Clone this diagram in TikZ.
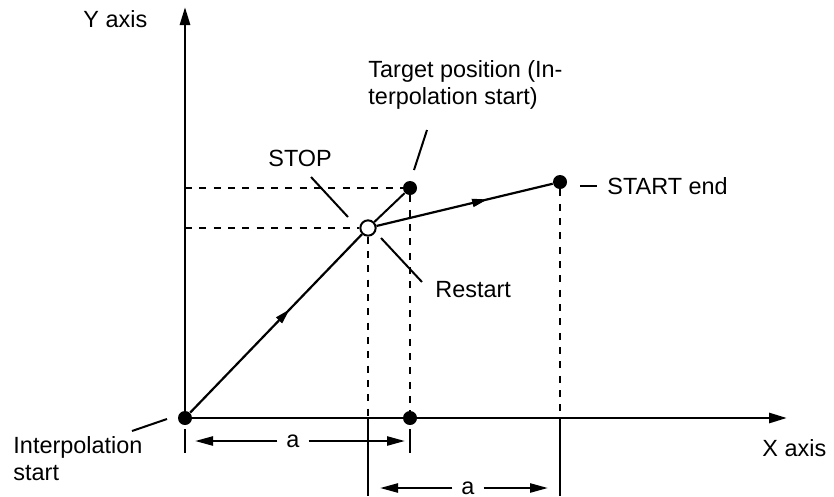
\documentclass[tikz,border=0pt]{standalone}
\usepackage{fontspec}
\setmainfont{Liberation Sans}
\usetikzlibrary{arrows.meta,decorations.markings}

\tikzset{
  dot/.style={circle, fill, inner sep=0pt, minimum size=2.1mm},
  ring/.style={circle, draw, fill=white, line width=0.3mm, inner sep=0pt, minimum size=2.3mm},
  axis/.style={line width=0.42mm, -{Triangle[length=2.7mm,width=1.5mm]}},
  path line/.style={line width=0.33mm,
    decoration={markings, mark=at position #1 with {\arrow{Triangle[length=2.3mm,width=1.2mm]}}},
    postaction=decorate},
  guide/.style={line width=0.33mm, dash pattern=on 1.05mm off 1.1mm},
  leader/.style={line width=0.3mm},
  dim/.style={line width=0.36mm, -{Triangle[length=2.7mm,width=1.35mm]}},
  lbl/.style={font=\fontsize{10}{11.2}\selectfont, inner sep=0pt, anchor=base west, align=left},
  dimlbl/.style={font=\fontsize{10}{11}\selectfont, inner ysep=0pt, inner xsep=1.3mm},
}

\begin{document}
\begin{tikzpicture}[x=0.15mm,y=-0.15mm]
    \useasboundingbox (0,0) rectangle (834,496);
    % points of the path
    \node[dot] (O) at (185,418) {};
    \node[dot] (T) at (410,188) {};
    \node[dot] (E) at (560,182) {};
    \node[dot] (F) at (410,418) {};
    \node[ring] (S) at (368,228) {};
    % axes
    \coordinate (Ytip) at (185,7);
    \coordinate (Xtip) at (787,418);
    \draw[axis] (O.center) -- (Ytip);
    \draw[axis] (O.center) -- (Xtip);
    \node[lbl] (ylab) at (83,27) {Y axis};
    \node[lbl] (xlab) at (762,456) {X axis};
    % dashed guides
    \draw[guide] (O.center |- T) -- (T);
    \draw[guide] (O.center |- S) -- (S);
    \draw[guide] (T) -- (F);
    \draw[guide] (S) -- (S |- O);
    \draw[guide] (E) -- (E |- O);
    \coordinate (Slow) at (368,496);
    \coordinate (Elow) at (560,496);
    \draw[leader] (S |- O) -- (Slow);
    \draw[leader] (E |- O) -- (Elow);
    % path
    \draw[path line=0.58] (O) -- (S);
    \draw[leader] (S) -- (T);
    \draw[path line=0.63] (S) -- (E);
    % labels (base = last line)
    \node[lbl] (stoplab) at (268,166.5) {STOP};
    \coordinate (stopA) at (311,177);
    \coordinate (stopB) at (348,217);
    \draw[leader] (stopA) -- (stopB);
    \node[lbl] (restartlab) at (435,297) {Restart};
    \coordinate (restA) at (381,238);
    \coordinate (restB) at (422,282);
    \draw[leader] (restA) -- (restB);
    \node[lbl] (targetlab) at (368,104) {Target position (In-\\terpolation start)};
    \coordinate (targA) at (414,170);
    \coordinate (targB) at (427,130);
    \draw[leader] (targA) -- (targB);
    \node[lbl] (endlab) at (607,194.5) {START end};
    \coordinate (endA) at (580,186);
    \coordinate (endB) at (597,186);
    \draw[leader] (endA) -- (endB);
    \node[lbl] (startlab) at (13,480) {Interpolation\\start};
    \coordinate (startA) at (132,431);
    \coordinate (startB) at (167,419);
    \draw[leader] (startA) -- (startB);
    % distance a
    \coordinate (t1a) at (185,429); \coordinate (t1b) at (185,453);
    \coordinate (t2a) at (410,429); \coordinate (t2b) at (410,453);
    \draw[leader] (t1a) -- (t1b);
    \draw[leader] (t2a) -- (t2b);
    \node[dimlbl] (a1) at (293,441) {a};
    \coordinate (a1l) at (195,441);
    \coordinate (a1r) at (405,441);
    \draw[dim] (a1) -- (a1l);
    \draw[dim] (a1) -- (a1r);
    \node[dimlbl] (a2) at (468,488) {a};
    \coordinate (a2l) at (380,488);
    \coordinate (a2r) at (548,488);
    \draw[dim] (a2) -- (a2l);
    \draw[dim] (a2) -- (a2r);
\end{tikzpicture}
\end{document}
